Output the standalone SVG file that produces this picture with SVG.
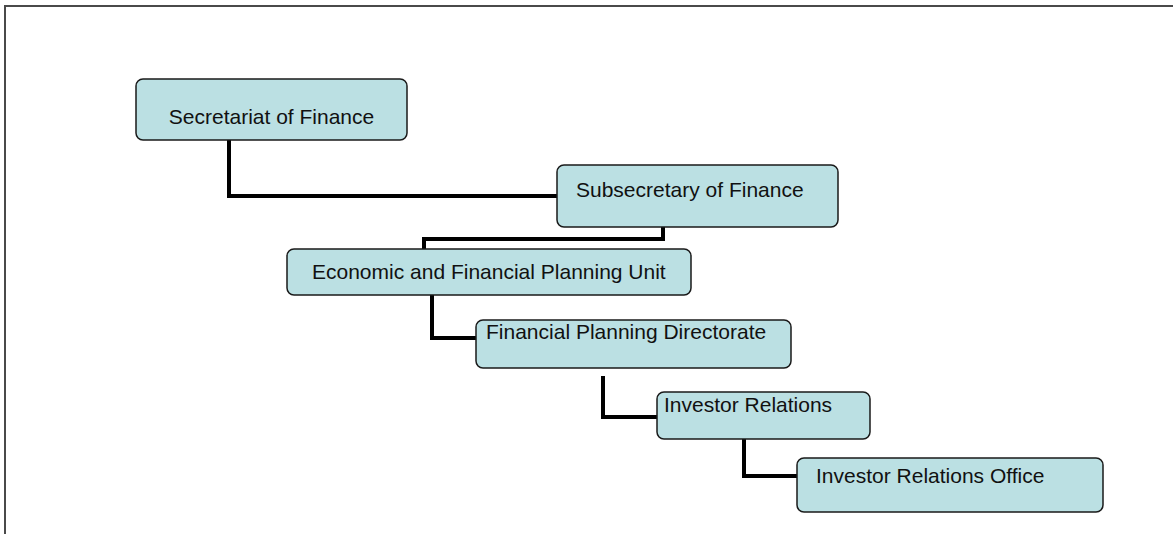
<svg xmlns="http://www.w3.org/2000/svg" width="1173" height="534" viewBox="0 0 1173 534">
  <style>
    .box { fill: #bbe0e3; stroke: #1a1a1a; stroke-width: 1.5; }
    .lbl { font-family: "Liberation Sans", Arial, sans-serif; font-size: 21px; fill: #111; }
    .link { fill: none; stroke: #000; stroke-width: 4; stroke-linejoin: miter; }
    .frame { fill: none; stroke: #4a4a4a; stroke-width: 2; }
  </style>
  <rect width="1173" height="534" fill="#fff"/>
  <!-- page frame: top and left edges only -->
  <path class="frame" d="M5,534 V6 H1173"/>

  <g id="connectors">
    <path class="link" d="M229,140 V196 H557"/>
    <path class="link" d="M663,227 V239 H424 V249"/>
    <path class="link" d="M432,295 V338 H477"/>
    <path class="link" d="M603,376 V417 H657"/>
    <path class="link" d="M744,439 V476 H797"/>
  </g>

  <g id="secretariat">
    <rect class="box" x="136" y="79" width="271" height="61" rx="7"/>
    <text class="lbl" x="271.5" y="124" text-anchor="middle">Secretariat of Finance</text>
  </g>
  <g id="subsecretary">
    <rect class="box" x="557" y="165" width="281" height="62" rx="7"/>
    <text class="lbl" x="576" y="197">Subsecretary of Finance</text>
  </g>
  <g id="planning-unit">
    <rect class="box" x="287" y="249" width="404" height="46" rx="7"/>
    <text class="lbl" x="312" y="279">Economic and Financial Planning Unit</text>
  </g>
  <g id="planning-directorate">
    <rect class="box" x="476" y="320" width="315" height="48" rx="7"/>
    <text class="lbl" x="486" y="339">Financial Planning Directorate</text>
  </g>
  <g id="investor-relations">
    <rect class="box" x="657" y="392" width="213" height="47" rx="7"/>
    <text class="lbl" x="664" y="412">Investor Relations</text>
  </g>
  <g id="investor-relations-office">
    <rect class="box" x="797" y="458" width="306" height="54" rx="7"/>
    <text class="lbl" x="816" y="483">Investor Relations Office</text>
  </g>
</svg>
